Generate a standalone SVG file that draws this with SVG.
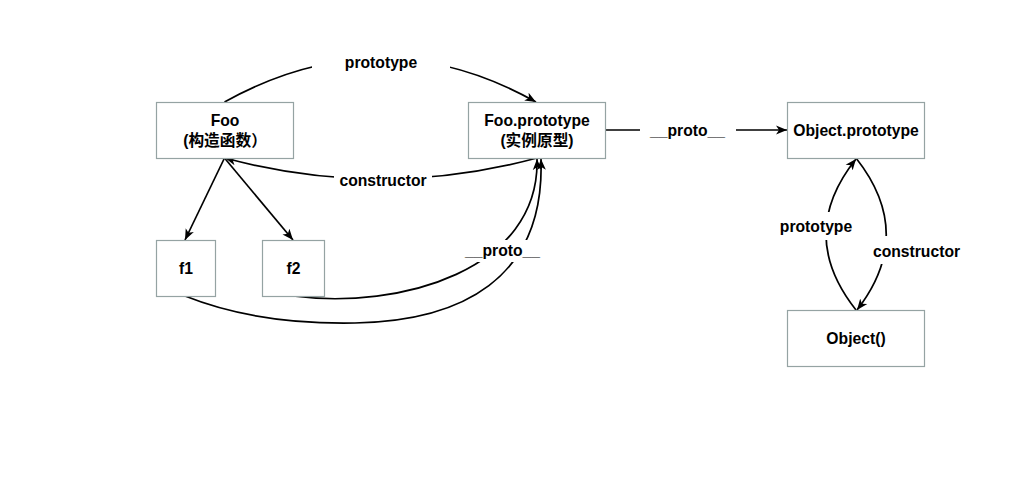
<svg xmlns="http://www.w3.org/2000/svg" width="1034" height="491" viewBox="0 0 1034 491">
<style>
.box{fill:#ffffff;stroke:#95a3a3;stroke-width:1.2}
.t{font-family:"Liberation Sans",Arial,"Noto Sans CJK SC",sans-serif;font-weight:bold;font-size:15.7px;fill:#000;text-anchor:middle}
.e{fill:none;stroke:#000;stroke-width:1.7}
.lb{fill:#ffffff;stroke:none}
</style>
<defs>
<marker id="arr" markerUnits="userSpaceOnUse" markerWidth="12" markerHeight="10" viewBox="0 0 12 10" refX="11" refY="5" orient="auto">
<path d="M0,0.5 L11,5 L0,9.5 L3,5 Z" fill="#000"/>
</marker>
</defs>
<rect width="1034" height="491" fill="#ffffff"/>
<g id="connectors">
<path class="e" d="M224.5,102 Q381,15 536,102" marker-end="url(#arr)"/>
<path class="e" d="M537,158 Q381,200 225,158" marker-end="url(#arr)"/>
<path class="e" d="M224.5,158 L185,240" marker-end="url(#arr)"/>
<path class="e" d="M224.5,158 L293,240" marker-end="url(#arr)"/>
<path class="e" d="M293,296 C400,310 540,270 537,159" marker-end="url(#arr)"/>
<path class="e" d="M185,296 C240,318 300,324 355,323 C460,321 545,280 541,159" marker-end="url(#arr)"/>
<path class="e" d="M605,130 L787,130" marker-end="url(#arr)"/>
<path class="e" d="M856,310 Q796,234 856,159" marker-end="url(#arr)"/>
<path class="e" d="M856,158 Q916,234 857,310" marker-end="url(#arr)"/>
<rect class="lb" x="312" y="50" width="138" height="22"/>
<text class="t" x="381" y="67.5">prototype</text>
<rect class="lb" x="334" y="169" width="98" height="22"/>
<text class="t" x="383" y="185.5">constructor</text>
<rect class="lb" x="462" y="240" width="81" height="22"/>
<text class="t" x="502.5" y="256">__proto__</text>
<rect class="lb" x="640" y="119" width="96" height="22"/>
<text class="t" x="687.5" y="135.5">__proto__</text>
<rect class="lb" x="778" y="212" width="77" height="28"/>
<text class="t" x="816" y="231.5">prototype</text>
<rect class="lb" x="870" y="236" width="94" height="28"/>
<text class="t" x="916.5" y="256.5">constructor</text>
</g>
<g id="foo">
<rect class="box" x="156.5" y="102.5" width="137" height="56"/>
<text class="t" x="225" y="126">Foo</text>
<text class="t" x="225" y="145.5">(构造函数）</text>
</g>
<g id="fooprototype">
<rect class="box" x="468.5" y="102.5" width="137" height="56"/>
<text class="t" x="537" y="126">Foo.prototype</text>
<text class="t" x="537" y="145.5">(实例原型)</text>
</g>
<g id="objectprototype">
<rect class="box" x="787.5" y="102.5" width="137" height="56"/>
<text class="t" x="856" y="135.5">Object.prototype</text>
</g>
<g id="object">
<rect class="box" x="787.5" y="310.5" width="137" height="56"/>
<text class="t" x="856" y="343.5">Object()</text>
</g>
<g id="f1">
<rect class="box" x="156.5" y="240.5" width="59" height="56"/>
<text class="t" x="186" y="274">f1</text>
</g>
<g id="f2">
<rect class="box" x="262.5" y="240.5" width="62" height="56"/>
<text class="t" x="293.5" y="274">f2</text>
</g>
</svg>
